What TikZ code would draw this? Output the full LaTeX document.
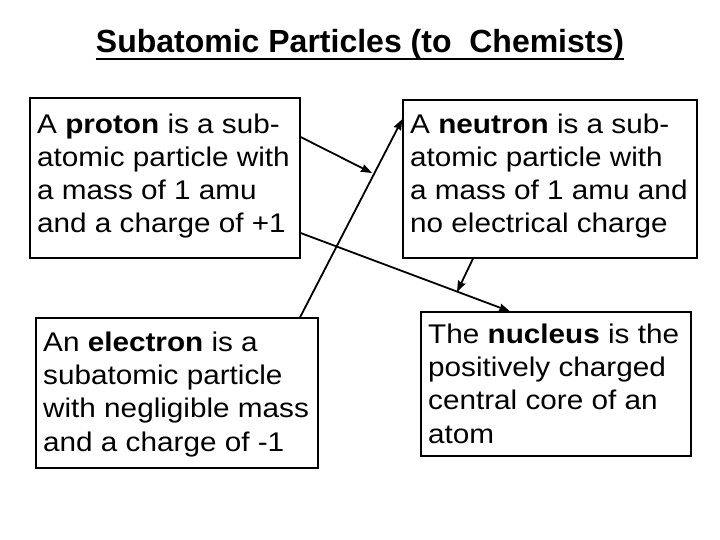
\documentclass[tikz,border=0pt]{standalone}
\usepackage{fontspec}
\setmainfont{Liberation Sans}
\newfontfamily\bodyf{Liberation Sans}[FakeStretch=1.1]
\usetikzlibrary{arrows.meta}
\tikzset{
  box/.style={draw=black, line width=1.2pt, inner sep=0pt, rectangle},
  txt/.style={inner sep=0pt, align=left, anchor=base west, font=\bodyf\fontsize{27}{33.3}\selectfont},
  arr/.style={draw=black, line width=1.8pt, -{Stealth[length=11pt,width=8pt,inset=1pt]}},
  ttl/.style={inner sep=0pt, anchor=base, font=\bfseries\fontsize{32}{36}\selectfont}
}
\begin{document}
\begin{tikzpicture}[x=1pt,y=-1pt]
\useasboundingbox[fill=white] (0,0) rectangle (720,540);
% title
\node[ttl] (title) at (360,53) {Subatomic Particles (to\ \ Chemists)};
\draw[line width=2.5pt] ([yshift=-6pt]title.base west) -- ([yshift=-6pt]title.base east);
% boxes
\node[box, minimum width=270pt, minimum height=160pt] (proton) at (165,178) {};
\node[box, minimum width=294pt, minimum height=158pt] (neutron) at (550,179) {};
\node[box, minimum width=282pt, minimum height=150pt] (electron) at (177,393) {};
\node[box, minimum width=270pt, minimum height=144pt] (nucleus) at (556,384) {};
% texts (anchored at the baseline of their last line)
\node[txt] (protontext) at (37,233) {A \textbf{proton} is a sub-\\atomic particle with\\a mass of 1 amu\\and a charge of +1};
\node[txt] (neutrontext) at (410,233) {A \textbf{neutron} is a sub-\\atomic particle with\\a mass of 1 amu and\\no electrical charge};
\node[txt] (electrontext) at (43,451) {An \textbf{electron} is a\\subatomic particle\\with negligible mass\\and a charge of -1};
\node[txt] (nucleustext) at (428,443) {The \textbf{nucleus} is the\\positively charged\\central core of an\\atom};
% free ends
\coordinate (t1) at (372,173);
\coordinate (t4) at (457,292);
% arrows
\draw[arr] ([yshift=41pt]proton.east) -- (t1);
\draw[arr] ([xshift=123pt]electron.north) -- ([yshift=60pt]neutron.west);
\draw[arr] ([yshift=-55pt]proton.east) -- ([xshift=-46pt]nucleus.north);
\draw[arr] ([xshift=-77pt]neutron.south) -- (t4);
\end{tikzpicture}
\end{document}
